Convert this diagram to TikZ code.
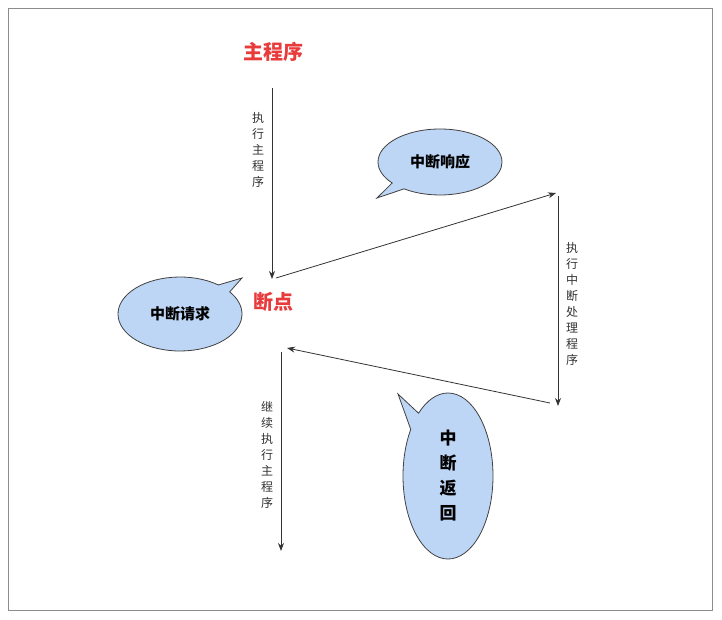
\documentclass[tikz,border=0pt]{standalone}
\usepackage{fontspec}
\newfontfamily\cjk{Noto Sans CJK SC}
\usetikzlibrary{shapes.callouts,arrows.meta}
\definecolor{bub}{RGB}{190,214,245}
\definecolor{redt}{RGB}{232,60,60}
\begin{document}
\begin{tikzpicture}[x=1pt,y=-1pt,
  arr/.style={draw=black!80,line width=0.8pt,-{Stealth[length=8pt,width=6pt]}},
  vlab/.style={font=\cjk\fontsize{12}{16}\selectfont,text=black!80,align=center,inner sep=0pt},
  red/.style={font=\cjk\bfseries\fontsize{20}{22}\selectfont,text=redt},
  bubble/.style={ellipse callout,draw=black!75,line width=0.8pt,fill=bub,font=\cjk\bfseries\fontsize{15}{18}\selectfont,align=center,inner sep=0pt}]
\useasboundingbox (0,0) rectangle (722,620);
\draw[black!45,line width=0.8pt] (8,8) rectangle (712,610);
\node[red] (main) at (273,52) {主程序};
\node[red] (bp) at (273,302) {断点};
\coordinate (a1) at (272,88); \coordinate (a2) at (272,279);
\coordinate (b1) at (276,278); \coordinate (b2) at (556,193);
\coordinate (c1) at (558,196); \coordinate (c2) at (558,406);
\coordinate (d1) at (550,403); \coordinate (d2) at (287,348);
\coordinate (e1) at (281,352); \coordinate (e2) at (281,551);
\draw[arr] (a1) -- (a2);
\draw[arr] (b1) -- (b2);
\draw[arr] (c1) -- (c2);
\draw[arr] (d1) -- (d2);
\draw[arr] (e1) -- (e2);
\node[vlab] (l1) at (258,150) {执\\行\\主\\程\\序};
\node[vlab] (l2) at (572,304) {执\\行\\中\\断\\处\\理\\程\\序};
\node[vlab] (l3) at (267,455) {继\\续\\执\\行\\主\\程\\序};
\node[bubble,minimum width=124pt,minimum height=74pt,callout absolute pointer={(242,278)}] (q) at (180,314) {中断请求};
\node[bubble,minimum width=124pt,minimum height=66pt,callout absolute pointer={(377,198)}] (r) at (440,162) {中断响应};
\node[bubble,minimum width=90pt,minimum height=166pt,callout absolute pointer={(398,394)},font=\cjk\bfseries\fontsize{17}{25}\selectfont] (s) at (448,476) {中\\断\\返\\回};
\end{tikzpicture}
\end{document}
